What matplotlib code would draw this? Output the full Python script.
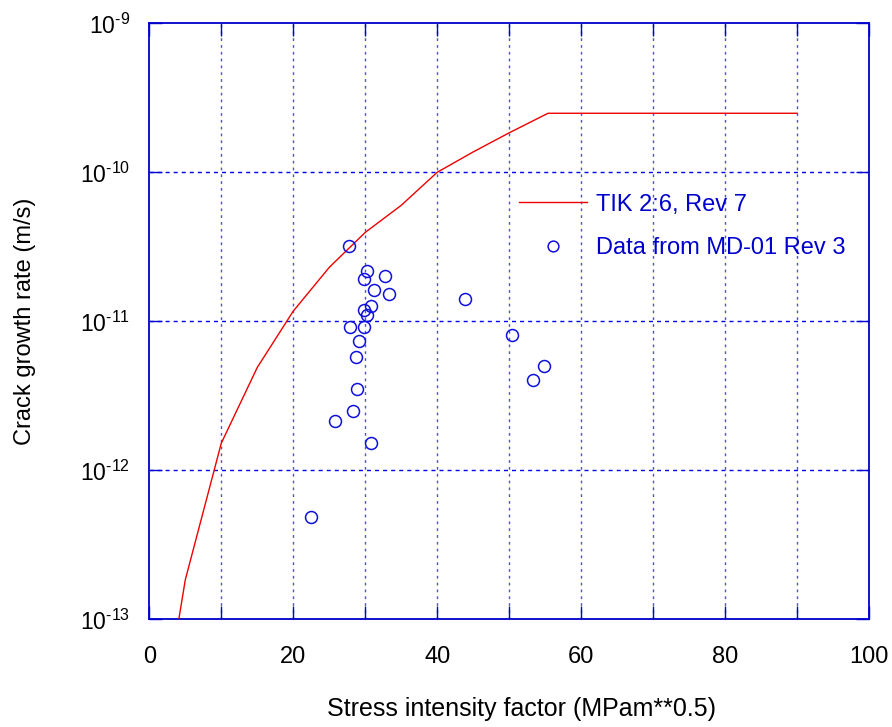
import matplotlib
matplotlib.use('Agg')
import matplotlib.pyplot as plt
from matplotlib.ticker import FixedLocator, FuncFormatter, NullLocator

plt.rcParams['font.family'] = ['Liberation Sans', 'DejaVu Sans']
plt.rcParams['mathtext.fontset'] = 'custom'
plt.rcParams['mathtext.rm'] = 'Liberation Sans'
plt.rcParams['mathtext.it'] = 'Liberation Sans:italic'
plt.rcParams['mathtext.bf'] = 'Liberation Sans:bold'
plt.rcParams['lines.scale_dashes'] = False

# Reference curve (TIK 2:6, Rev 7)
curve_k = [4.1, 5, 10, 15, 20, 25, 30, 35, 40, 45, 50, 55.4, 90]
curve_rate = [1.0e-13, 1.84e-13, 1.52e-12, 4.9e-12, 1.17e-11, 2.3e-11,
              3.95e-11, 6.0e-11, 1.0e-10, 1.37e-10, 1.84e-10, 2.49e-10, 2.49e-10]

# Measured data (MD-01 Rev 3)
data_k = [27.8, 30.3, 29.8, 32.8, 31.25, 33.3, 30.8, 29.8, 30.3, 27.9, 29.9,
          29.2, 28.7, 28.8, 28.3, 25.8, 30.8, 22.4, 43.85, 50.4, 54.8, 53.3]
data_rate = [3.2e-11, 2.18e-11, 1.91e-11, 2.01e-11, 1.62e-11, 1.52e-11, 1.27e-11,
             1.20e-11, 1.10e-11, 9.1e-12, 9.1e-12, 7.4e-12, 5.8e-12, 3.53e-12,
             2.51e-12, 2.13e-12, 1.52e-12, 4.84e-13, 1.41e-11, 8.1e-12, 5.0e-12,
             4.04e-12]

x_ticks = [0, 10, 20, 30, 40, 50, 60, 70, 80, 90, 100]
y_ticks = [1e-13, 1e-12, 1e-11, 1e-10, 1e-9]
y_labels = [r'$10^{\text{-13}}$', r'$10^{\text{-12}}$', r'$10^{\text{-11}}$',
            r'$10^{\text{-10}}$', r'$10^{\text{-9}}$']

curve_label = 'TIK 2:6, Rev 7'
data_label = 'Data from MD-01 Rev 3'
x_title = 'Stress intensity factor (MPam**0.5)'
y_title = 'Crack growth rate (m/s)'

BLUE = '#0000CC'
FS = 17

fig = plt.figure(figsize=(8.92, 7.27), dpi=100)
ax = fig.add_axes([0.16738, 0.14814, 0.80684, 0.81981])

ax.set_yscale('log')
ax.set_xlim(0, 100)
ax.set_ylim(1e-13, 1e-9)

# grid lines
for xv in x_ticks[1:-1]:
    ax.axvline(xv, color='#5050DD', lw=1.0, linestyle=(0, (2.0, 2.9)), zorder=1)
for yv in y_ticks[1:-1]:
    ax.axhline(yv, color='#0000EE', lw=1.0, linestyle=(0, (2.9, 2.9)), zorder=1)

ax.plot(curve_k, curve_rate, color='#EE0000', lw=1.0, label=curve_label, zorder=3)
ax.plot(data_k, data_rate, linestyle='none', marker='o', markersize=8.6,
        markerfacecolor='none', markeredgecolor='#1010DD', markeredgewidth=1.1,
        label=data_label, zorder=4)

ax.xaxis.set_major_locator(FixedLocator(x_ticks))
ax.xaxis.set_major_formatter(FuncFormatter(lambda v, p: '%d' % v if int(round(v)) % 20 == 0 else ''))
ax.yaxis.set_major_locator(FixedLocator(y_ticks))
ax.yaxis.set_minor_locator(NullLocator())
ax.set_yticklabels(y_labels)

ax.tick_params(axis='both', which='major', direction='in', length=9.4, width=1.0,
               color=BLUE, top=True, right=True, labelcolor='black')
ax.tick_params(axis='x', pad=19.4, labelsize=FS)
ax.tick_params(axis='y', pad=13.7, labelsize=16.5)

for s in ax.spines.values():
    s.set_color(BLUE)
    s.set_linewidth(1.3)

ax.set_xlabel(x_title, fontsize=18)
ax.xaxis.set_label_coords(0.5165, -0.1305)
ax.set_ylabel(y_title, fontsize=FS, labelpad=32)

ax.legend(loc='upper left', bbox_to_anchor=(0.5137, 0.7140), frameon=False,
          borderpad=0, borderaxespad=0, handlelength=2.88, handletextpad=0.38,
          labelspacing=0.89, fontsize=FS, labelcolor=BLUE, numpoints=1,
          markerscale=0.9)

fig.savefig('out.png', dpi=100)
